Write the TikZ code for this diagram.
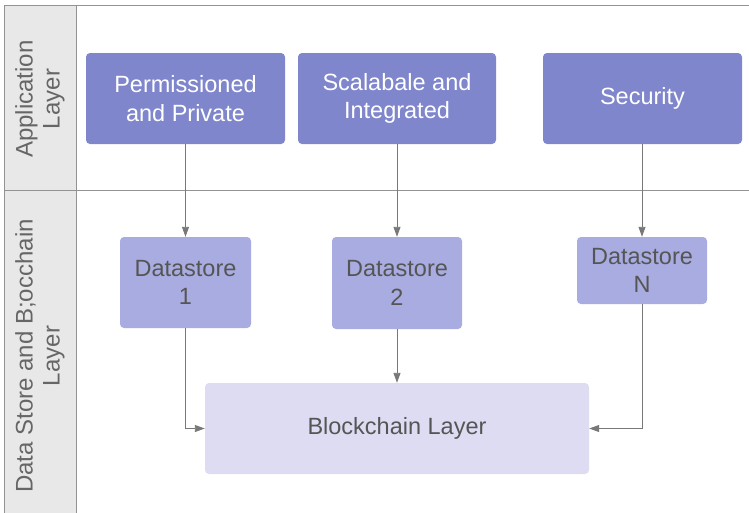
\documentclass[tikz,border=0pt]{standalone}
\usepackage{fontspec}
\setmainfont{Liberation Sans}
\usetikzlibrary{arrows.meta,positioning}
\definecolor{appfill}{RGB}{128,134,204}
\definecolor{dsfill}{RGB}{169,172,224}
\definecolor{bcfill}{RGB}{221,220,243}
\definecolor{hdrfill}{RGB}{232,232,232}
\definecolor{linegray}{RGB}{120,120,120}
\definecolor{txtgray}{RGB}{85,85,85}
\tikzset{
  appbox/.style={rectangle, rounded corners=4pt, fill=appfill, text=white, align=center,
    font=\fontsize{23.5}{28.5}\selectfont, inner sep=0pt},
  dsbox/.style={rectangle, rounded corners=4pt, fill=dsfill, text=txtgray, align=center,
    font=\fontsize{23.5}{28.5}\selectfont, inner sep=0pt},
  bcbox/.style={rectangle, rounded corners=4pt, fill=bcfill, text=txtgray, align=center,
    font=\fontsize{23.5}{28.5}\selectfont, inner sep=0pt},
  hdrtext/.style={text=txtgray!90, align=center, rotate=90, font=\fontsize{24}{27}\selectfont},
  conn/.style={draw=linegray, line width=0.9pt, -{Triangle[length=10pt,width=7pt]}},
}
\begin{document}
\begin{tikzpicture}[x=1pt,y=-1pt]
\useasboundingbox (0,0) rectangle (749,512);
% header column
\fill[hdrfill] (4,5) rectangle (76,515);
\draw[linegray!80, line width=1pt] (4,515) -- (4,5) -- (749,5);
\draw[linegray!80, line width=1pt] (76,5) -- (76,515);
\draw[linegray!80, line width=1pt] (4,190) -- (749,190);
\node[hdrtext] (hApp) at (40,99) {Application\\Layer};
\node[hdrtext] (hData) at (40,356) {Data Store and B;occhain\\Layer};
% application boxes
\node[appbox, minimum width=199pt, minimum height=91pt] (perm) at (185.5,98.5) {Permissioned\\and Private};
\node[appbox, minimum width=198pt, minimum height=91pt] (scal) at (397,98.5) {Scalabale and\\Integrated};
\node[appbox, minimum width=199pt, minimum height=91pt] (sec) at (642.5,98.5) {Security};
% datastores
\node[dsbox, minimum width=131pt, minimum height=91pt] (ds1) at (185.5,282.5) {Datastore\\1};
\node[dsbox, minimum width=130pt, minimum height=92pt] (ds2) at (397,283) {Datastore\\2};
\node[dsbox, minimum width=130pt, minimum height=67pt] (dsN) at (642,270.5) {Datastore\\N};
% blockchain
\node[bcbox, minimum width=384pt, minimum height=91pt] (bc) at (397,428.5) {Blockchain Layer};
% connectors
\draw[conn] (perm.south) -- (ds1.north);
\draw[conn] (scal.south) -- (ds2.north);
\draw[conn] (sec.south -| dsN.north) -- (dsN.north);
\draw[conn] (ds2.south) -- (bc.north);
\draw[conn] (ds1.south) |- (bc.west);
\draw[conn] (dsN.south) |- (bc.east);
\end{tikzpicture}
\end{document}
